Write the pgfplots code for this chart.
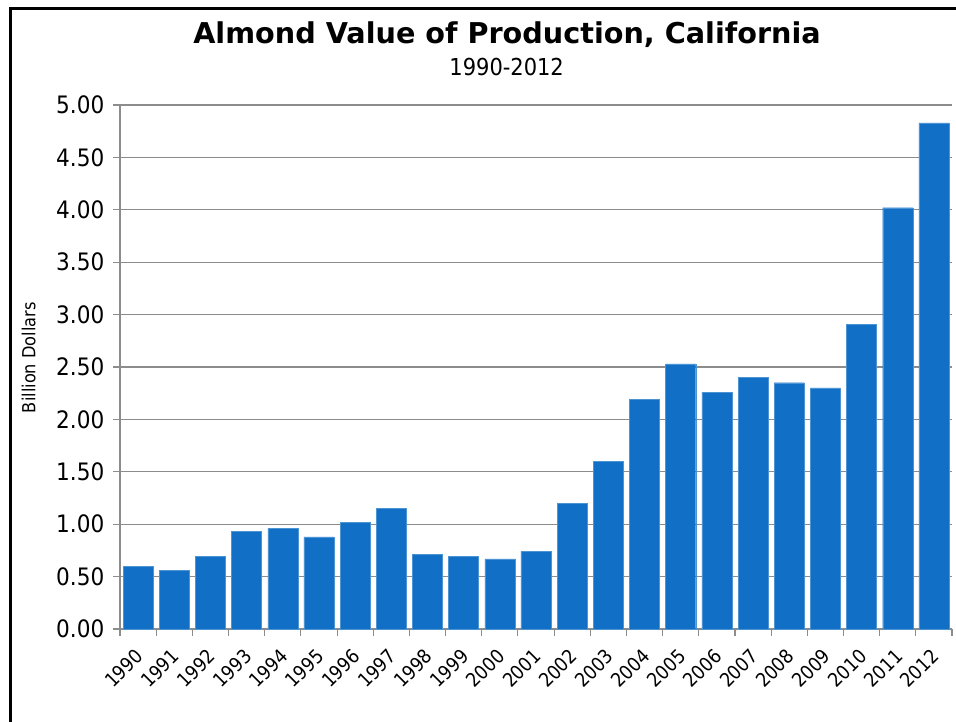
\documentclass[border=0pt]{standalone}
\usepackage{pgfplots}
\pgfplotsset{compat=1.18}
\usepackage{fontspec}
\setmainfont{DejaVu Sans Condensed}
\newfontfamily\titlefont{DejaVu Sans}
\definecolor{barblue}{HTML}{1170C6}
\definecolor{gridgray}{HTML}{8C8C8C}
\pgfplotstableread{
x year val
0 1990 0.60
1 1991 0.56
2 1992 0.69
3 1993 0.93
4 1994 0.96
5 1995 0.88
6 1996 1.02
7 1997 1.15
8 1998 0.71
9 1999 0.69
10 2000 0.67
11 2001 0.74
12 2002 1.20
13 2003 1.60
14 2004 2.19
15 2005 2.53
16 2006 2.26
17 2007 2.40
18 2008 2.35
19 2009 2.30
20 2010 2.91
21 2011 4.02
22 2012 4.83
}\almonds
\begin{document}
\begin{tikzpicture}
\path[use as bounding box] (0pt,0pt) rectangle (717pt,540.75pt);
\begin{axis}[
  at={(90pt,69pt)}, anchor=south west,
  scale only axis, width=624pt, height=393pt,
  xmin=-0.5, xmax=22.5, ymin=0, ymax=5,
  axis x line*=bottom, axis y line*=left,
  axis line style={gridgray, line width=0.8pt},
  ytick={0,0.5,...,5},
  ymajorgrids, major grid style={gridgray, line width=0.8pt},
  yticklabel={\pgfmathprintnumber[fixed,fixed zerofill,precision=2]{\tick}},
  /pgf/number format/assume math mode=true,
  yticklabel style={font=\fontsize{18}{21}\selectfont, xshift=-3pt},
  xtick={0,...,22},
  xticklabels={1990,1991,1992,1993,1994,1995,1996,1997,1998,1999,2000,2001,2002,2003,2004,2005,2006,2007,2008,2009,2010,2011,2012},
  xticklabel style={font=\fontsize{14.5}{17}\selectfont, xshift=3.5pt, yshift=-10pt, rotate=45, anchor=east},
  minor xtick={-0.5,0.5,...,22.5},
  tick align=outside,
  major x tick style={draw=none},
  minor tick length=5pt,
  major tick length=5.25pt,
  tick style={gridgray, line width=0.8pt},
  every minor tick/.style={gridgray, line width=0.8pt},
  clip=false,
]
\addplot[ybar, bar width=0.83, fill=barblue, draw=barblue!75!white, line width=0.3pt] table[x=x, y=val] {\almonds};
\end{axis}
\node[anchor=base, font=\titlefont\fontsize{21.5}{26}\selectfont\bfseries] at (380.25pt,507.75pt) {Almond Value of Production, California};
\node[anchor=base, font=\fontsize{17.5}{21}\selectfont] at (380pt,483.75pt) {1990-2012};
\node[rotate=90, font=\fontsize{13.5}{16}\selectfont] at (21.5pt,272.5pt) {Billion Dollars};
\draw[line width=2.25pt, line cap=rect] (7.5pt,-5pt) -- (7.5pt,534.4pt) -- (725pt,534.4pt);
\end{tikzpicture}
\end{document}
